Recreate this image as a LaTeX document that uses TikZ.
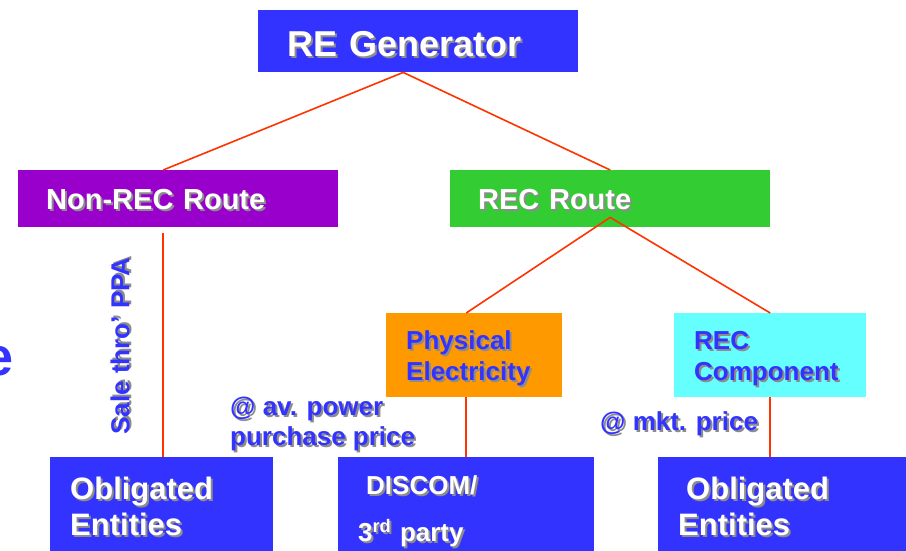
\documentclass[tikz,border=0pt]{standalone}
\usepackage{fontspec}
\setmainfont{Liberation Sans}
\usepackage{tikz}
\definecolor{genblue}{HTML}{3333FF}
\definecolor{nonrecpurple}{HTML}{9900CC}
\definecolor{recgreen}{HTML}{33CC33}
\definecolor{physorange}{HTML}{FF9900}
\definecolor{compcyan}{HTML}{66FFFF}
\definecolor{linkred}{HTML}{FF3300}
\newcommand\shd[1]{\leavevmode\rlap{\kern2pt\raisebox{-2pt}{\textcolor{black!45}{#1}}}#1}
\newcommand\fsz[2]{\fontsize{#1}{#2}\selectfont\bfseries}
\tikzset{
    blockbox/.style={anchor=north west, inner ysep=0pt, align=left, text=white},
    bluelabel/.style={inner sep=0pt, text=genblue},
    link/.style={draw=linkred, line width=1.6pt}
}

\begin{document}
\begin{tikzpicture}[x=1pt, y=-1pt]
            \useasboundingbox (0, 0) rectangle (906, 550);
            \node[blockbox, fill=genblue, inner xsep=29pt, text width=262pt, minimum height=62pt, font=\fsz{36}{42}](gen) at (258, 10){\rule{0pt}{32pt}\shd{RE Generator}};
            \node[blockbox, fill=nonrecpurple, inner xsep=28pt, text width=264pt, minimum height=57pt, font=\fsz{29}{34}](nonrec) at (18, 170){\rule{0pt}{23pt}\shd{Non-REC Route}};
            \node[blockbox, fill=recgreen, inner xsep=28pt, text width=264pt, minimum height=57pt, font=\fsz{29}{34}](rec) at (450, 170){\rule{0pt}{23pt}\shd{REC Route}};
            \node[blockbox, fill=physorange, text=genblue, inner xsep=20pt, text width=136pt, minimum height=84pt, font=\fsz{26}{31}](phys) at (386, 313){\rule{0pt}{27pt}\shd{Physical}\\\shd{Electricity}};
            \node[blockbox, fill=compcyan, text=genblue, inner xsep=20pt, text width=152pt, minimum height=84pt, font=\fsz{26}{31}](comp) at (674, 313){\rule{0pt}{27pt}\shd{REC}\\\shd{Component}};
            \node[blockbox, fill=genblue, inner xsep=20pt, text width=183pt, minimum height=97pt, font=\fsz{31}{36}](oblL) at (50, 457){\rule{0pt}{26pt}\shd{Obligated}\\\shd{Entities}};
            \node[blockbox, fill=genblue, inner xsep=20pt, text width=216pt, minimum height=107pt, font=\fsz{26}{31}](disc) at (338, 457){\rule{0pt}{22pt}\hspace*{8pt}\shd{DISCOM/}\\[16pt]\shd{3\textsuperscript{rd} party}};
            \node[blockbox, fill=genblue, inner xsep=20pt, text width=208pt, minimum height=97pt, font=\fsz{31}{36}](oblR) at (658, 457){\rule{0pt}{26pt}\hspace*{8pt}\shd{Obligated}\\\shd{Entities}};
            \node[bluelabel, rotate=90, font=\fsz{26}{31}](ppa) at (121, 346){\shd{Sale thro’ PPA}};
            \node[bluelabel, anchor=north west, align=left, font=\fsz{26}{30}](avpp) at (230, 397){\shd{@ av. power}\\\shd{purchase price}};
            \node[bluelabel, anchor=north west, font=\fsz{26}{31}](mkt) at (600, 411){\shd{@ mkt. price}};
            \node[bluelabel, anchor=base west, font=\fsz{54}{60}](cut) at (-17, 375){e};
            \coordinate(ppaTop) at (163, 233);
            \coordinate(recFork) at ([yshift=10pt]rec.south);
            \draw[link]([xshift=-15pt]nonrec.north)--([xshift=-15pt]gen.south)--(rec.north);
            \draw[link](ppaTop)--(ppaTop |- oblL.north);
            \draw[link]([xshift=-8pt]phys.north)--(recFork)--(comp.north);
            \draw[link](phys.south -| disc.north)--(disc.north);
            \draw[link](comp.south)--(comp.south |- oblR.north);
        \end{tikzpicture}
\end{document}
